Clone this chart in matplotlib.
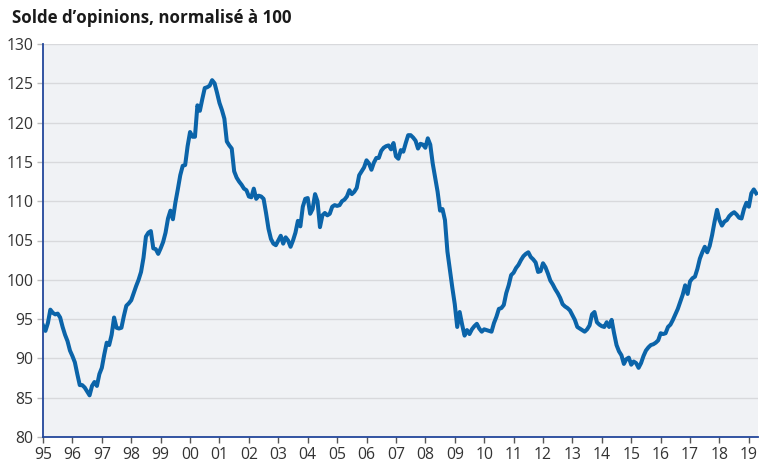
import matplotlib
matplotlib.use("Agg")
import matplotlib.pyplot as plt
import matplotlib.transforms as mtransforms
import numpy as np

start_year = 1995
values = [
    # 1995
    94.2, 93.5, 94.5, 96.2, 95.8, 95.6, 95.7, 95.2, 94.0, 93.0, 92.2, 91.0,
    # 1996
    90.3, 89.5, 88.0, 86.6, 86.6, 86.3, 85.8, 85.3, 86.5, 87.0, 86.5, 88.0,
    # 1997
    88.8, 90.5, 92.0, 91.7, 93.0, 95.2, 93.9, 93.8, 93.9, 95.4, 96.7, 97.0,
    # 1998
    97.4, 98.3, 99.2, 100.0, 101.0, 102.8, 105.5, 106.0, 106.2, 104.0, 103.9, 103.3,
    # 1999
    104.0, 104.8, 106.0, 107.8, 108.8, 107.7, 109.8, 111.5, 113.3, 114.5, 114.6, 117.0,
    # 2000
    118.8, 118.2, 118.2, 122.2, 121.5, 123.0, 124.4, 124.5, 124.7, 125.4, 125.0, 123.8,
    # 2001
    122.5, 121.6, 120.5, 117.6, 117.1, 116.7, 113.8, 113.0, 112.5, 112.1, 111.6, 111.4,
    # 2002
    110.6, 110.5, 111.6, 110.3, 110.7, 110.6, 110.3, 108.5, 106.5, 105.2, 104.6, 104.4,
    # 2003
    105.0, 105.6, 104.6, 105.4, 105.0, 104.2, 105.0, 106.0, 107.5, 106.8, 109.3, 110.3,
    # 2004
    110.4, 108.4, 109.0, 110.9, 110.0, 106.7, 108.2, 108.5, 108.2, 108.4, 109.3, 109.5,
    # 2005
    109.4, 109.5, 110.0, 110.2, 110.6, 111.4, 110.9, 111.2, 111.7, 113.3, 113.8, 114.3,
    # 2006
    115.2, 114.8, 114.0, 114.9, 115.5, 115.5, 116.4, 116.8, 117.0, 117.1, 116.6, 117.4,
    # 2007
    115.7, 115.4, 116.5, 116.3, 117.4, 118.4, 118.4, 118.1, 117.7, 116.7, 117.3, 117.2,
    # 2008
    116.8, 118.0, 117.2, 114.8, 113.0, 111.2, 108.8, 109.0, 107.6, 103.6, 101.3, 99.0,
    # 2009
    96.9, 94.0, 95.9, 94.3, 92.9, 93.6, 93.1, 93.7, 94.1, 94.4, 93.8, 93.4,
    # 2010
    93.7, 93.6, 93.5, 93.4, 94.5, 95.3, 96.3, 96.4, 96.8, 98.3, 99.3, 100.6,
    # 2011
    100.9, 101.5, 101.9, 102.5, 103.0, 103.3, 103.5, 102.9, 102.6, 102.2, 101.0, 101.1,
    # 2012
    102.1, 101.6, 100.8, 99.9, 99.4, 98.8, 98.3, 97.7, 96.9, 96.6, 96.4, 96.1,
    # 2013
    95.5, 94.9, 94.0, 93.8, 93.6, 93.4, 93.7, 94.2, 95.6, 95.9, 94.6, 94.3,
    # 2014
    94.1, 94.0, 94.6, 94.0, 94.9, 93.2, 91.7, 90.9, 90.4, 89.3, 89.9, 90.1,
    # 2015
    89.2, 89.6, 89.4, 88.8, 89.4, 90.3, 91.0, 91.4, 91.7, 91.8, 92.0, 92.3,
    # 2016
    93.2, 93.1, 93.2, 94.0, 94.3, 94.9, 95.6, 96.3, 97.2, 98.1, 99.3, 98.2,
    # 2017
    99.8, 100.2, 100.4, 101.4, 102.7, 103.5, 104.2, 103.5, 104.3, 105.7, 107.4, 108.9,
    # 2018
    107.6, 106.9, 107.4, 107.6, 108.1, 108.4, 108.6, 108.3, 107.9, 107.8, 109.0, 109.8,
    # 2019
    109.3, 111.0, 111.5, 111.0,
]
year_ticks = list(range(1995, 2020))
year_labels = [f"{y % 100:02d}" for y in year_ticks]
y_ticks = [80, 85, 90, 95, 100, 105, 110, 115, 120, 125, 130]
title = "Solde d\u2019opinions, normalisé à 100"

dates = start_year + np.arange(len(values)) / 12.0

plt.rcParams['font.family'] = ['Open Sans', 'DejaVu Sans']

fig = plt.figure(figsize=(7.65, 4.62), dpi=100)
ax = fig.add_axes([43 / 765, 1 - 437 / 462, (758 - 43) / 765, (437 - 44) / 462])
ax.set_facecolor('#f0f2f5')

ax.plot(dates, values, color='#0b64a9', lw=2.9, solid_joinstyle='round', zorder=3)

ax.set_xlim(1995, 2019.31)
ax.set_ylim(80, 130)
ax.set_yticks(y_ticks)
ax.set_yticklabels([str(v) for v in y_ticks], fontsize=11.3, color='#333333')
ax.set_xticks(year_ticks)
ax.set_xticklabels(year_labels, fontsize=11.3, color='#333333')
offset = mtransforms.ScaledTranslation(5 / 100, 0, fig.dpi_scale_trans)
for lab in ax.get_xticklabels():
    lab.set_transform(lab.get_transform() + offset)

ax.grid(axis='y', color='#d8d9dc', lw=1.0, zorder=1)
ax.set_axisbelow(True)
for s in ['top', 'right']:
    ax.spines[s].set_visible(False)
for s in ['left', 'bottom']:
    ax.spines[s].set_color('#23479b')
    ax.spines[s].set_linewidth(1.3)
ax.tick_params(axis='x', length=4, width=1, color='#555555', pad=3)
ax.tick_params(axis='y', length=4, width=1, color='#bbbbbb', pad=3)

fig.text(12 / 765, 1 - 18 / 462, title, fontsize=12.2, fontweight='bold',
         color='#1a1a1a', va='center', ha='left')

fig.savefig('out.png', dpi=100, facecolor='white')
